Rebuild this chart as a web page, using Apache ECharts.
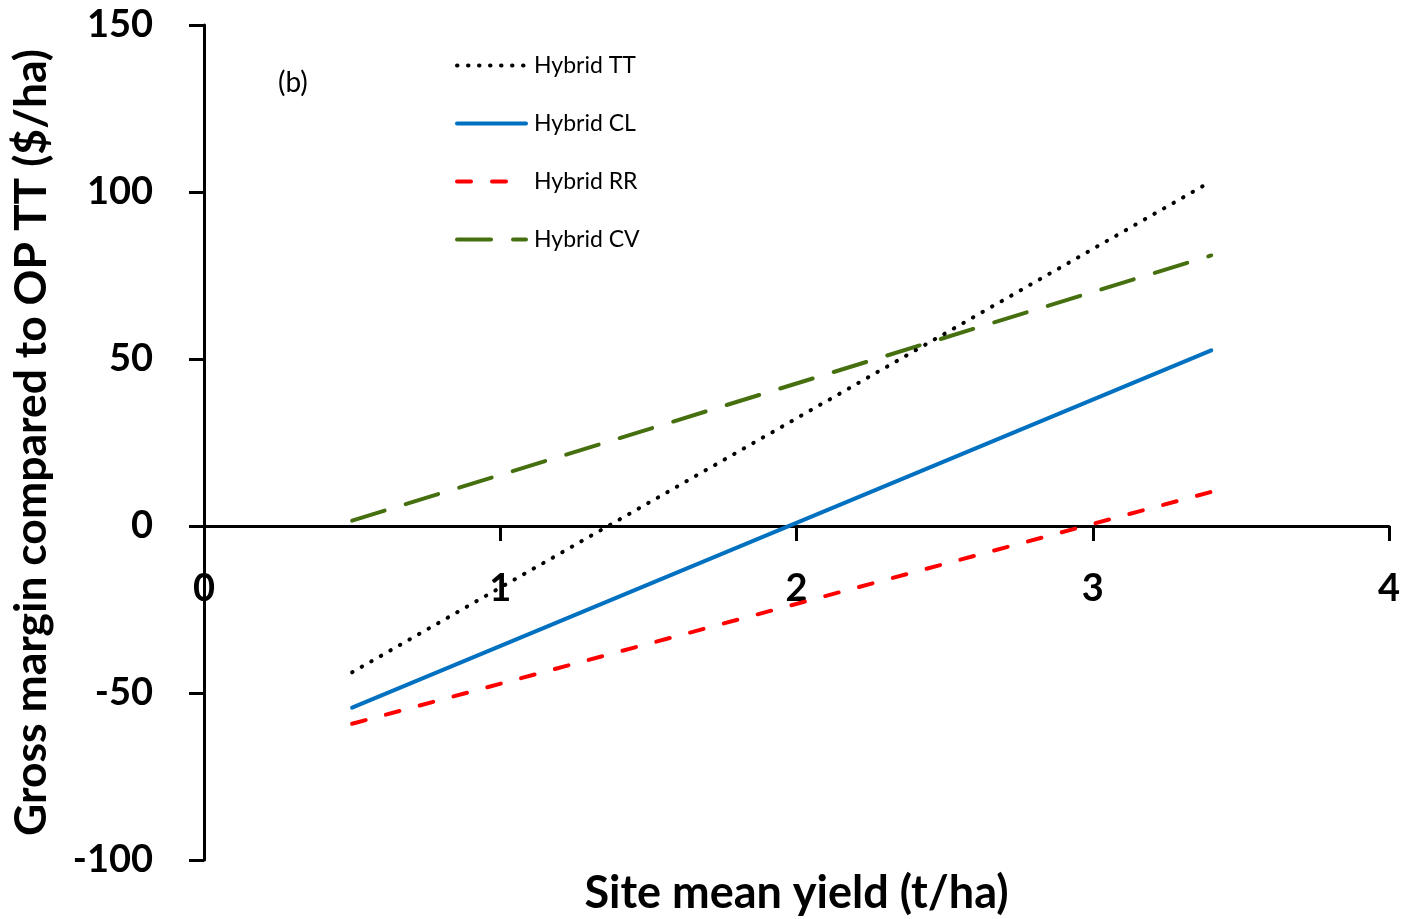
<!DOCTYPE html>
<html>
<head>
<meta charset="utf-8">
<script src="https://cdn.jsdelivr.net/npm/echarts@6/dist/echarts.min.js"></script>
<style>html,body{margin:0;padding:0;background:#fff}#c{width:1402px;height:919px}</style>
</head>
<body>
<div id="c"></div>
<script>
const seriesNames = ['Hybrid TT', 'Hybrid CL', 'Hybrid RR', 'Hybrid CV'];
const xTT = [0.5, 3.4], yTT = [-43.8, 103.2];
const xCL = [0.5, 3.4], yCL = [-54.4, 52.6];
const xRR = [0.5, 3.4], yRR = [-59.2, 10.2];
const xCV = [0.5, 3.4], yCV = [1.6, 81.0];
const xTicks = [0, 1, 2, 3, 4];
const yTicks = [-100, -50, 0, 50, 100, 150];

const pairs = (xs, ys) => xs.map((x, i) => [x, ys[i]]);
const FONT = 'Lato';
const chart = echarts.init(document.getElementById('c'));
chart.setOption({
  animation: false,
  backgroundColor: '#ffffff',
  grid: { left: 204, right: 13, top: 25, bottom: 59, containLabel: false, outerBoundsMode: 'none' },
  legend: {
    orient: 'vertical', left: 455, top: 54, padding: 0,
    itemWidth: 69, itemHeight: 24, itemGap: 35,
    itemStyle: { opacity: 0 },
    lineStyle: { width: 4, cap: 'round' },
    textStyle: { fontFamily: FONT, fontSize: 23, color: '#000', padding: [0, 0, 0, 3] },
    data: seriesNames
  },
  xAxis: {
    type: 'value', min: xTicks[0], max: xTicks[xTicks.length - 1], interval: 1,
    name: 'Site mean yield (t/ha)', nameLocation: 'middle', nameGap: 11,
    nameTextStyle: { fontFamily: FONT, fontWeight: 'bold', fontSize: 45, color: '#000' },
    axisLine: { onZero: true, lineStyle: { color: '#000', width: 3 } },
    axisTick: { show: true, inside: false, length: 15, lineStyle: { color: '#000', width: 3 } },
    axisLabel: { fontFamily: FONT, fontWeight: 'bold', fontSize: 38, color: '#000', margin: -290 },
    splitLine: { show: false }
  },
  yAxis: {
    type: 'value', min: yTicks[0], max: yTicks[yTicks.length - 1], interval: 50,
    name: 'Gross margin compared to OP TT ($/ha)', nameLocation: 'middle', nameGap: 150,
    nameTextStyle: { fontFamily: FONT, fontWeight: 'bold', fontSize: 44.5, color: '#000' },
    axisLine: { onZero: true, lineStyle: { color: '#000', width: 3 } },
    axisTick: { show: true, inside: false, length: 15, lineStyle: { color: '#000', width: 3 } },
    axisLabel: { fontFamily: FONT, fontWeight: 'bold', fontSize: 38, color: '#000', margin: 51 },
    splitLine: { show: false }
  },
  graphic: [{
    type: 'text', left: 278, top: 69,
    style: { text: '(b)', fontFamily: FONT, fontSize: 28, fill: '#000' }
  }],
  series: [
    { name: seriesNames[0], type: 'line', data: pairs(xTT, yTT), symbol: 'none', z: 5,
      lineStyle: { color: '#000000', width: 4, type: [0.5, 10.5], cap: 'round' }, itemStyle: { color: '#000' } },
    { name: seriesNames[1], type: 'line', data: pairs(xCL, yCL), symbol: 'none', z: 4,
      lineStyle: { color: '#0070C0', width: 4, type: 'solid', cap: 'round' }, itemStyle: { color: '#0070C0' } },
    { name: seriesNames[2], type: 'line', data: pairs(xRR, yRR), symbol: 'none', z: 4,
      lineStyle: { color: '#FF0000', width: 4, type: [14, 21], cap: 'round' }, itemStyle: { color: '#FF0000' } },
    { name: seriesNames[3], type: 'line', data: pairs(xCV, yCV), symbol: 'none', z: 4,
      lineStyle: { color: '#46700F', width: 4, type: [34, 22], cap: 'round' }, itemStyle: { color: '#46700F' } }
  ]
});
</script>
</body>
</html>
